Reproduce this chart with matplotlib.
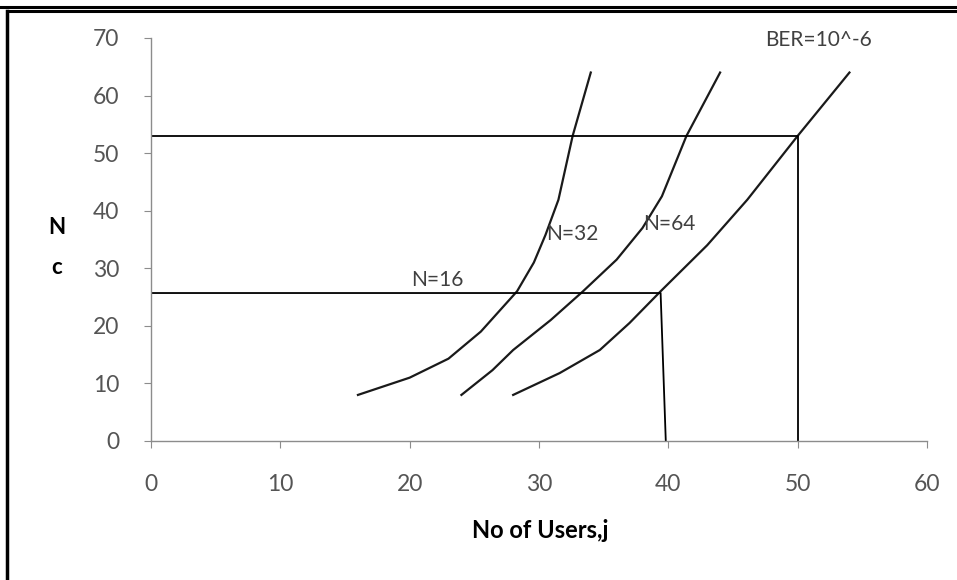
import matplotlib.pyplot as plt
from matplotlib.lines import Line2D

plt.rcParams['font.family'] = ['Lato', 'DejaVu Sans']

# curves: number of users j vs Nc, BER = 10^-6
nc_16 = [8, 11, 14.3, 19, 26, 31, 35.8, 41.9, 53, 64]
j_16 = [16, 20, 23, 25.5, 28.3, 29.6, 30.5, 31.5, 32.6, 34]

nc_32 = [8, 12.3, 15.8, 21, 26, 31.5, 37, 42.5, 53, 64]
j_32 = [24, 26.4, 28.0, 30.9, 33.4, 36, 38, 39.5, 41.4, 44]

nc_64 = [8, 11.8, 15.8, 20.5, 26, 34, 41.9, 53, 64]
j_64 = [28, 31.6, 34.7, 37, 39.4, 43, 46.1, 50, 54]

# guide lines
guide1_x = [0, 50, 50]
guide1_y = [53, 53, 0]
guide2_x = [0, 39.4, 39.8]
guide2_y = [25.7, 25.7, 0]

xticks = [0, 10, 20, 30, 40, 50, 60]
yticks = [0, 10, 20, 30, 40, 50, 60, 70]

fig = plt.figure(figsize=(9.57, 5.8), dpi=100)
ax = fig.add_axes([0.1578, 0.2397, 0.8109, 0.6948])

ax.plot(j_16, nc_16, color='#1a1a1a', lw=1.6)
ax.plot(j_32, nc_32, color='#1a1a1a', lw=1.6)
ax.plot(j_64, nc_64, color='#1a1a1a', lw=1.6)
ax.plot(guide1_x, guide1_y, color='black', lw=1.3)
ax.plot(guide2_x, guide2_y, color='black', lw=1.3)

ax.text(22.1, 28, 'N=16', fontsize=15, color='#404040', ha='center', va='center')
ax.text(32.6, 36, 'N=32', fontsize=15, color='#404040', ha='center', va='center')
ax.text(40.1, 37.7, 'N=64', fontsize=15, color='#404040', ha='center', va='center')
ax.text(51.6, 69.7, 'BER=10^-6', fontsize=15, color='#404040', ha='center', va='center')

ax.set_xlim(0, 60)
ax.set_ylim(0, 70)
ax.set_xticks(xticks)
ax.set_yticks(yticks)
for s in ['top', 'right']:
    ax.spines[s].set_visible(False)
for s in ['left', 'bottom']:
    ax.spines[s].set_color('#8c8c8c')
    ax.spines[s].set_linewidth(1.0)
ax.tick_params(colors='#8c8c8c', labelcolor='#555555', labelsize=16.5, length=5, direction='out')
ax.tick_params(axis='x', pad=19)
ax.tick_params(axis='y', pad=18)

fig.text(540 / 957, 1 - 531 / 580, 'No of Users,j', fontsize=17, fontweight='bold', ha='center', va='center')
fig.text(57 / 957, 1 - 228 / 580, 'N', fontsize=16, fontweight='bold', ha='center', va='center')
fig.text(57 / 957, 1 - 268 / 580, 'c', fontsize=16, fontweight='bold', ha='center', va='center')

# border around the figure
fig.add_artist(Line2D([0, 1], [1 - 7 / 580, 1 - 7 / 580], transform=fig.transFigure, color='black', lw=2.2))
fig.add_artist(Line2D([0.008, 1], [1 - 11 / 580, 1 - 11 / 580], transform=fig.transFigure, color='black', lw=2.2))
fig.add_artist(Line2D([7.5 / 957, 7.5 / 957], [0, 1 - 11 / 580], transform=fig.transFigure, color='black', lw=2.5))

fig.savefig('out.png', dpi=100)
